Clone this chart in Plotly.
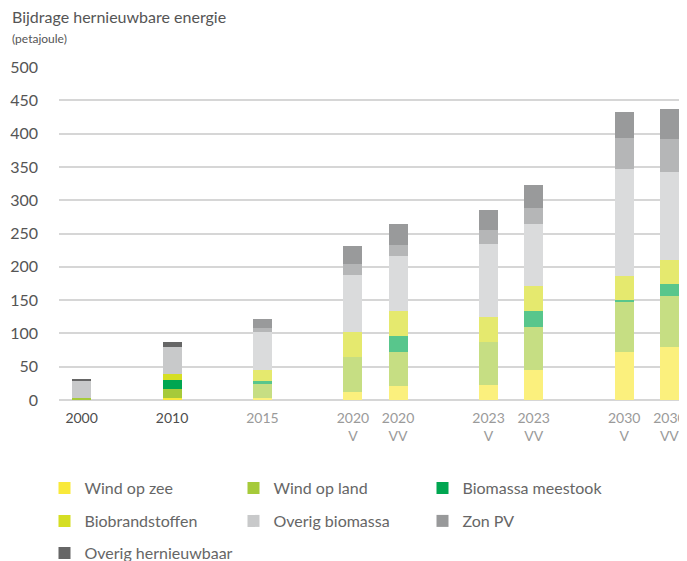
"""Bijdrage hernieuwbare energie - stacked bars (petajoule)."""

import plotly.graph_objects as go

# categories (real bars) and the slot order on the x axis, incl. blank spacers
categories = ["2000", "2010", "2015", "2020 V", "2020 VV", "2023 V", "2023 VV", "2030 V", "2030 VV"]
slot_order = ["2000", " ", "2010", "  ", "2015", "   ", "2020 V", "2020 VV", "    ",
              "2023 V", "2023 VV", "     ", "2030 V", "2030 VV"]
tick_labels = ["2000", "", "2010", "", "2015", "", "2020<br>V", "2020<br>VV", "",
               "2023<br>V", "2023<br>VV", "", "2030<br>V", "2030<br>VV"]
historic = ["2000", "2010"]

# series values (PJ)
wind_op_zee = [0, 3.5, 3.5, 12, 21, 22.5, 45, 72, 79.5]
wind_op_land = [3.5, 13, 20.5, 52.5, 51, 64.5, 64.5, 76.5, 76.5]
biomassa_meestook = [0, 13.5, 5, 0, 24, 0, 24, 1.5, 18]
biobrandstoffen = [0, 9.5, 16.5, 37.5, 37, 37, 37.5, 36.5, 36]
overig_biomassa = [25.5, 40, 56.5, 85.5, 83, 110, 93, 160, 132]
zon_pv = [0, 0, 6, 16.5, 16.5, 21, 24, 46.5, 49.5]
overig_hernieuwbaar = [2.5, 7.5, 13.5, 27, 31.5, 30, 34.5, 39, 45]

series = [
    ("Wind op zee", wind_op_zee, "#f9e93a", "#fbf07d"),
    ("Wind op land", wind_op_land, "#a6ca3a", "#c6de83"),
    ("Biomassa meestook", biomassa_meestook, "#00a651", "#58c68c"),
    ("Biobrandstoffen", biobrandstoffen, "#d5de23", "#e5e96e"),
    ("Overig biomassa", overig_biomassa, "#c8c9ca", "#dadbdc"),
    ("Zon PV", zon_pv, "#98999a", "#b5b6b7"),
    ("Overig hernieuwbaar", overig_hernieuwbaar, "#666666", "#999a9b"),
]
legend_rows = ["legend", "legend", "legend", "legend2", "legend2", "legend2", "legend3"]

FONT = "Lato"
# the page body adds an 8px margin, so the figure is drawn 8px smaller
W, H = 679, 553
PL, PT, PB = 51, 59, 392   # plot area left / top / bottom in figure pixels
PW, PH = W - PL, PB - PT

fig = go.Figure()
for (name, values, full, light), lg in zip(series, legend_rows):
    colors = [full if c in historic else light for c in categories]
    fig.add_trace(go.Bar(
        x=categories, y=values, name=name, legend=lg,
        marker=dict(color=colors, line=dict(width=0)),
        width=0.42,
    ))

ticktext = []
for lab in tick_labels:
    col = "#4d4d4d" if lab in historic else "#9a9a9a"
    ticktext.append(f"<span style='color:{col}'>{lab}</span>")

fig.update_layout(
    width=W, height=H,
    margin=dict(l=PL, r=0, t=PT, b=H - PB, autoexpand=False),
    barmode="stack",
    plot_bgcolor="white", paper_bgcolor="white",
    font=dict(family=FONT, color="#666666"),
    xaxis=dict(
        type="category", categoryorder="array", categoryarray=slot_order,
        tickvals=slot_order, ticktext=ticktext,
        range=[-0.5, 13.39], showgrid=False, zeroline=False,
        tickfont=dict(size=14), ticklabelstandoff=8,
    ),
    yaxis=dict(
        range=[0, 500], dtick=50, gridcolor="#d6d6d6", gridwidth=1.5,
        zeroline=True, zerolinecolor="#d6d6d6", zerolinewidth=1.5,
        tickfont=dict(size=16, color="#555555"), ticklabelstandoff=20,
    ),
    showlegend=True,
)

for key, yc in [("legend", 480), ("legend2", 513), ("legend3", 545)]:
    fig.update_layout({key: dict(
        orientation="h", xref="container", yref="container",
        x=36.5 / W, y=1 - yc / H, xanchor="left", yanchor="middle",
        entrywidth=144, entrywidthmode="pixels",
        font=dict(size=16, color="#666666"), bgcolor="rgba(0,0,0,0)",
        traceorder="normal",
    )})

fig.add_annotation(
    text="Bijdrage hernieuwbare energie", xref="paper", yref="paper",
    x=(2 - PL) / PW, y=(PB - 8) / PH, xanchor="left", yanchor="middle",
    showarrow=False, font=dict(size=16, color="#555555"),
)
fig.add_annotation(
    text="(petajoule)", xref="paper", yref="paper",
    x=(2 - PL) / PW, y=(PB - 30) / PH, xanchor="left", yanchor="middle",
    showarrow=False, font=dict(size=12, color="#555555"),
)

fig.write_html("out.html")
